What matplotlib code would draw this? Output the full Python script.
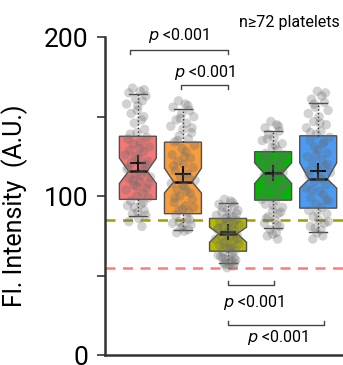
import matplotlib
matplotlib.use('Agg')
import matplotlib.pyplot as plt

plt.rcParams['font.family'] = ['Roboto', 'DejaVu Sans']

# box summaries
groups = ['g1', 'g2', 'g3', 'g4', 'g5']
colors = ['#F47878', '#F99D3C', '#B8B800', '#05B405', '#4A9BF5']
medians = [115.7, 109, 76.5, 114.5, 110.7]
q1s = [98, 89, 65.4, 97.5, 92.5]
q3s = [137.7, 134, 86, 128, 138]
whislo = [87.4, 79, 58, 80, 77.4]
whishi = [164, 155, 95.6, 141, 158.5]
means = [121, 114, 77.4, 114.5, 116]
ci_lo = [108, 102, 71, 108, 105]
ci_hi = [124, 117.6, 80.5, 121, 121]

# individual platelets (x offset from box centre, value)
pts_red = [(-0.12, 168), (0.05, 166), (-0.20, 165), (0.18, 163), (-0.05, 161), (0.10, 160),
           (-0.25, 158), (0.00, 157), (-0.15, 152), (0.08, 148), (-0.08, 146), (0.15, 142),
           (-0.02, 140), (0.20, 137), (-0.22, 136), (0.06, 134), (-0.10, 133), (0.25, 131),
           (-0.18, 129), (0.12, 128), (-0.28, 126), (0.02, 124), (0.22, 122), (-0.14, 121),
           (0.09, 119), (-0.24, 117), (0.16, 116), (-0.04, 114), (0.28, 112), (-0.19, 111),
           (0.04, 109), (-0.09, 107), (0.19, 105), (-0.26, 104), (0.11, 102), (-0.03, 100),
           (0.23, 99), (-0.16, 97), (0.07, 95), (-0.07, 93), (0.14, 91), (-0.12, 89), (0.02, 86),
           (-0.20, 84), (0.09, 81), (0.14, 167), (-0.01, 154), (0.13, 150), (-0.17, 139),
           (0.04, 130), (-0.06, 125), (0.17, 120), (-0.21, 118), (0.07, 113), (-0.11, 110),
           (0.24, 108), (-0.02, 106), (0.12, 96), (-0.23, 94), (0.00, 90), (0.18, 88)]
pts_orange = [(-0.10, 160), (0.05, 158), (-0.22, 156), (0.15, 154), (-0.03, 152), (0.24, 150),
              (-0.15, 148), (0.08, 146), (-0.27, 144), (0.00, 142), (0.19, 140), (-0.08, 138),
              (0.12, 136), (-0.19, 134), (0.26, 132), (-0.02, 130), (0.07, 128), (-0.24, 126),
              (0.17, 124), (-0.11, 122), (0.02, 120), (0.22, 118), (-0.17, 116), (0.10, 114),
              (-0.05, 112), (0.27, 110), (-0.26, 108), (0.04, 106), (-0.13, 104), (0.16, 102),
              (-0.07, 100), (0.21, 98), (-0.20, 96), (0.06, 94), (-0.01, 92), (0.13, 90),
              (-0.16, 88), (0.09, 86), (-0.09, 84), (0.18, 82), (-0.04, 80), (0.03, 78),
              (-0.14, 77), (0.11, 157), (-0.06, 149), (0.20, 143), (-0.12, 135), (0.03, 125),
              (-0.21, 119), (0.14, 111), (-0.01, 107), (0.08, 103), (-0.18, 99), (0.24, 93),
              (-0.09, 91), (0.15, 85), (-0.23, 83), (0.00, 81), (0.12, 79)]
pts_olive = [(-0.08, 98), (0.06, 97), (-0.20, 95), (0.14, 94), (-0.02, 92), (0.22, 91),
             (-0.14, 90), (0.04, 89), (-0.26, 88), (0.10, 87), (-0.06, 86), (0.18, 85),
             (-0.18, 84), (0.00, 83), (0.25, 82), (-0.10, 81), (0.08, 80), (-0.23, 79),
             (0.15, 78), (-0.04, 77), (0.20, 76), (-0.15, 75), (0.03, 74), (-0.28, 73),
             (0.12, 72), (-0.07, 71), (0.24, 70), (-0.19, 69), (0.06, 68), (-0.01, 67),
             (0.16, 66), (-0.12, 65), (0.09, 64), (-0.22, 63), (0.02, 62), (0.13, 61),
             (-0.05, 60), (0.07, 59), (-0.09, 58), (0.04, 57), (0.11, 56), (-0.02, 55),
             (0.10, 96), (-0.12, 93), (0.19, 89), (-0.03, 86), (0.12, 83), (-0.21, 80),
             (0.01, 78), (0.21, 73), (-0.10, 70), (0.07, 67), (-0.16, 62), (0.17, 60),
             (-0.06, 57), (0.15, 58), (-0.11, 61)]
pts_green = [(-0.05, 147), (0.08, 145), (-0.18, 143), (0.14, 141), (-0.10, 139), (0.02, 137),
             (-0.24, 135), (0.20, 133), (-0.02, 131), (0.10, 129), (-0.16, 127), (0.25, 126),
             (-0.08, 124), (0.05, 122), (-0.27, 121), (0.16, 119), (-0.12, 118), (0.00, 116),
             (0.22, 115), (-0.20, 113), (0.09, 112), (-0.04, 110), (0.27, 108), (-0.14, 107),
             (0.03, 105), (0.18, 104), (-0.22, 102), (0.12, 100), (-0.06, 99), (0.06, 97),
             (-0.17, 95), (0.21, 93), (-0.01, 91), (0.11, 89), (-0.11, 87), (0.04, 85),
             (-0.19, 83), (0.15, 81), (-0.07, 79), (0.07, 77), (-0.13, 75), (0.10, 73),
             (0.12, 144), (-0.13, 136), (0.05, 132), (-0.20, 125), (0.18, 123), (-0.03, 119),
             (0.13, 114), (-0.09, 111), (0.22, 106), (-0.25, 98), (0.01, 94), (0.17, 90),
             (-0.15, 86), (0.08, 82), (-0.01, 76)]
pts_blue = [(-0.02, 166), (0.08, 163), (-0.15, 161), (0.14, 159), (-0.06, 156), (0.22, 154),
            (-0.22, 152), (0.02, 150), (-0.10, 147), (0.18, 145), (-0.26, 143), (0.06, 141),
            (-0.04, 139), (0.25, 137), (-0.18, 135), (0.11, 133), (-0.08, 131), (0.00, 129),
            (0.20, 127), (-0.24, 125), (0.09, 123), (-0.13, 121), (0.15, 119), (-0.01, 117),
            (0.27, 115), (-0.20, 113), (0.05, 111), (-0.09, 109), (0.17, 107), (-0.27, 105),
            (0.03, 103), (0.12, 101), (-0.16, 99), (0.23, 97), (-0.05, 95), (0.08, 93),
            (-0.21, 91), (0.19, 89), (-0.11, 87), (0.01, 85), (0.14, 83), (-0.17, 81),
            (0.06, 79), (-0.03, 77), (0.10, 75), (-0.12, 73), (0.16, 165), (-0.09, 158),
            (0.04, 146), (-0.17, 140), (0.13, 134), (-0.05, 126), (0.21, 120), (-0.22, 116),
            (0.07, 112), (-0.14, 104), (0.18, 98), (-0.02, 90), (0.22, 84), (-0.07, 80)]
points = [pts_red, pts_orange, pts_olive, pts_green, pts_blue]

ref_olive = 85
ref_red = 54.7

p_label = '<0.001'
n_label = 'n\u226572 platelets'

fig = plt.figure(figsize=(3.43, 3.65), dpi=100)
ax = fig.add_axes([0.306, 0.027, 0.694, 0.871])

stats = []
for i in range(len(groups)):
    stats.append({'med': medians[i], 'q1': q1s[i], 'q3': q3s[i],
                  'whislo': whislo[i], 'whishi': whishi[i], 'mean': means[i],
                  'cilo': ci_lo[i], 'cihi': ci_hi[i], 'fliers': [], 'label': groups[i]})

pos = list(range(1, len(groups) + 1))
bp = ax.bxp(stats, positions=pos, widths=0.82, shownotches=True, patch_artist=True,
            showmeans=True, showfliers=False,
            boxprops=dict(edgecolor='#505050', linewidth=1),
            medianprops=dict(color='black', linewidth=1.8),
            whiskerprops=dict(color='#222222', linestyle=':', linewidth=1),
            capprops=dict(color='#444444', linewidth=1),
            meanprops=dict(marker='+', markeredgecolor='black', markersize=11,
                           markeredgewidth=1.5))
for patch, c in zip(bp['boxes'], colors):
    patch.set_facecolor(c)
for cap in bp['caps']:
    x = cap.get_xdata()
    m = (x[0] + x[1]) / 2
    cap.set_xdata([m - 0.2, m + 0.2])

for i, pts in enumerate(points):
    xs = [pos[i] + d for d, v in pts]
    ys = [v for d, v in pts]
    ax.scatter(xs, ys, s=46, color='#6a6a6a', alpha=0.3, edgecolors='none', zorder=4)

ax.axhline(ref_olive, color='#9E9E00', linestyle=(0, (4, 3)), linewidth=1.8, zorder=1)
ax.axhline(ref_red, color='#FF7B7B', linestyle=(0, (4, 3)), linewidth=1.8, zorder=1)


def bracket(x0, x1, y, tip, tx, ty):
    ax.plot([x0, x0, x1, x1], [y - tip, y, y, y - tip], color='#444444', linewidth=1,
            clip_on=False)
    ax.text(tx, ty, r'$\it{p}$ ' + p_label, ha='center', va='center', fontsize=11.5)


bracket(0.82, 3.0, 192, 2.5, 1.91, 200.8)
bracket(1.95, 3.0, 170, 2.5, 2.49, 178)
bracket(3.0, 4.03, 44, -2.5, 3.57, 33)
bracket(3.0, 5.13, 19, -2.5, 4.09, 11)

ax.text(0.985, 1.045, n_label, transform=ax.transAxes, ha='right', va='center', fontsize=11.5)

ax.set_xlim(0.27, 5.55)
ax.set_ylim(0, 200)
ax.set_yticks([0, 100, 200])
ax.set_yticks([50, 150], minor=True)
ax.set_xticks([])
ax.tick_params(axis='y', which='both', length=6, width=1.2, color='#333333', pad=6,
               labelsize=19)
for s in ['top', 'right']:
    ax.spines[s].set_visible(False)
for s in ['left', 'bottom']:
    ax.spines[s].set_linewidth(1.8)
    ax.spines[s].set_color('#333333')

ax.set_ylabel('Fl. Intensity  (A.U.)', fontsize=18)
ax.yaxis.set_label_coords(-0.325, 0.47)

fig.savefig('out.png', dpi=100)
